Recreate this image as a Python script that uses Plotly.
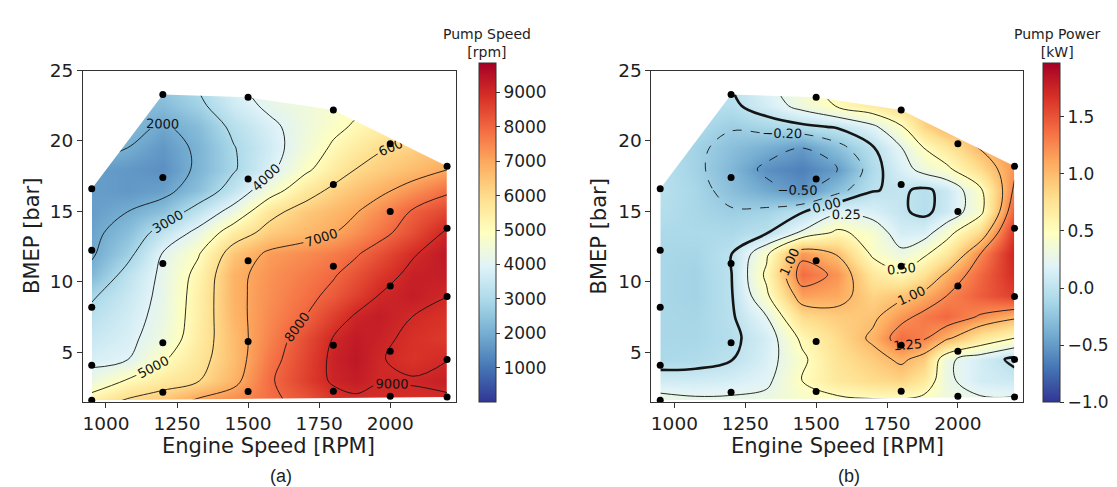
import plotly.graph_objects as go

W, H = 1117, 487

# ---------------- data ----------------
grid_rpm = [950, 1075, 1200, 1325, 1450, 1575, 1700, 1800, 1880, 1960, 2080, 2200]
grid_bmep = [1.5, 3, 4.5, 6, 7.5, 9, 10.5, 12, 13.5, 15, 16.5, 18, 19.5, 21, 22.5, 24]

# Pump speed [rpm], rows follow grid_bmep (bottom -> top), columns follow grid_rpm
pump_speed = [
    [5500, 6150, 6500, 7200, 7450, 7850, 8200, 8700, 8850, 8900, 8850, 8850],
    [4320, 5060, 5560, 5950, 6770, 7900, 8580, 9100, 9250, 9020, 9050, 9200],
    [3790, 3970, 4900, 5690, 6590, 7730, 8500, 9150, 9350, 9050, 8800, 8980],
    [3510, 3800, 4400, 5510, 6620, 7550, 8370, 9030, 9300, 9150, 8850, 8700],
    [3230, 3670, 4270, 5430, 6730, 7440, 8000, 8630, 9100, 9250, 8990, 8800],
    [2900, 3510, 4210, 5390, 6780, 7360, 7800, 8180, 8590, 9020, 9250, 9010],
    [2220, 3280, 4170, 5270, 6780, 7300, 7650, 7940, 8290, 8700, 9180, 9250],
    [1900, 2740, 4040, 4930, 6430, 7150, 7400, 7650, 7930, 8310, 8940, 9350],
    [1800, 2370, 3350, 4230, 5510, 6300, 6660, 6960, 7340, 7750, 8370, 9100],
    [1700, 1990, 2400, 3350, 4320, 5730, 6340, 6680, 6950, 7380, 8080, 8510],
    [1700, 1600, 1750, 2410, 3390, 4570, 5590, 6180, 6490, 6800, 7320, 7860],
    [1700, 1600, 1450, 2150, 2920, 3810, 4810, 5510, 6010, 6250, 6610, 6970],
    [2300, 2000, 1600, 2140, 2960, 3660, 4460, 5130, 5520, 5920, 6200, 6450],
    [2600, 2300, 1880, 2340, 3190, 3810, 4370, 4800, 5110, 5370, 5770, 6150],
    [2400, 2300, 2300, 2800, 3630, 4160, 4430, 4660, 4830, 5010, 5300, 5600],
    [2600, 2500, 2600, 3100, 3900, 4300, 4600, 4900, 5200, 5500, 5800, 6100],
]

# Pump power [kW]
pump_power = [
    [0.35, 0.30, 0.30, 0.32, 0.40, 0.42, 0.45, 0.45, 0.40, 0.35, 0.30, 0.30],
    [0.10, 0.10, 0.13, 0.20, 0.50, 0.70, 0.80, 0.85, 0.70, 0.30, 0.12, 0.08],
    [-0.10, -0.08, -0.01, 0.15, 0.45, 0.75, 0.90, 1.05, 0.90, 0.30, 0.12, -0.05],
    [-0.12, -0.12, -0.05, 0.12, 0.55, 0.80, 1.05, 1.38, 1.28, 1.05, 0.70, 0.50],
    [-0.12, -0.13, -0.03, 0.24, 0.80, 0.90, 0.95, 1.18, 1.32, 1.40, 1.22, 1.05],
    [-0.12, -0.15, -0.02, 0.45, 1.14, 1.10, 0.85, 0.95, 1.08, 1.25, 1.45, 1.60],
    [-0.12, -0.15, -0.01, 0.55, 1.38, 1.20, 0.70, 0.55, 0.75, 1.05, 1.40, 1.70],
    [-0.12, -0.13, -0.01, 0.45, 1.18, 0.98, 0.45, 0.30, 0.45, 0.68, 1.25, 1.75],
    [-0.10, -0.10, -0.10, -0.02, 0.28, 0.55, 0.40, 0.12, 0.15, 0.40, 0.82, 1.65],
    [-0.05, -0.12, -0.18, -0.15, -0.02, 0.20, 0.15, 0.03, -0.05, 0.08, 0.42, 1.45],
    [-0.03, -0.12, -0.28, -0.42, -0.55, -0.28, -0.01, 0.03, -0.04, 0.06, 0.45, 1.30],
    [-0.03, -0.15, -0.33, -0.56, -0.64, -0.50, -0.08, 0.15, 0.33, 0.44, 0.80, 1.20],
    [-0.03, -0.15, -0.28, -0.38, -0.50, -0.28, -0.02, 0.24, 0.50, 0.70, 1.02, 1.20],
    [-0.03, -0.08, -0.18, -0.12, -0.05, 0.02, 0.20, 0.47, 0.85, 1.05, 1.10, 1.15],
    [-0.03, -0.04, -0.05, 0.12, 0.33, 0.52, 0.68, 0.82, 0.95, 1.05, 1.12, 1.18],
    [-0.03, -0.03, 0.00, 0.20, 0.42, 0.60, 0.75, 0.90, 1.00, 1.10, 1.15, 1.20],
]

# measured operating points
meas_rpm = [950, 950, 950, 950, 950,
            1200, 1200, 1200, 1200, 1200,
            1500, 1500, 1500, 1500, 1500,
            1800, 1800, 1800, 1800, 1800,
            2000, 2000, 2000, 2000, 2000,
            2200, 2200, 2200, 2200, 2200]
meas_bmep = [1.6, 4.08, 8.2, 12.25, 16.6,
             2.17, 5.67, 11.3, 17.4, 23.3,
             2.22, 5.76, 11.5, 17.3, 23.1,
             2.24, 5.49, 11.1, 16.9, 22.2,
             1.88, 5.07, 9.7, 15.0, 19.8,
             1.83, 4.49, 8.96, 13.8, 18.2]

speed_levels = [2000, 9000, 1000]
speed_ticks = [1000, 2000, 3000, 4000, 5000, 6000, 7000, 8000, 9000]
power_ticks = [-1.0, -0.5, 0.0, 0.5, 1.0, 1.5]
power_tick_text = ["\u22121.0", "\u22120.5", "0.0", "0.5", "1.0", "1.5"]
rpm_ticks = [1000, 1250, 1500, 1750, 2000]
bmep_ticks = [5, 10, 15, 20, 25]

# ---------------- helpers ----------------
def convex_hull(xs, ys):
    pts = sorted(set(zip(xs, ys)))

    def cross(o, a, b):
        return (a[0] - o[0]) * (b[1] - o[1]) - (a[1] - o[1]) * (b[0] - o[0])

    lower, upper = [], []
    for p in pts:
        while len(lower) >= 2 and cross(lower[-2], lower[-1], p) <= 0:
            lower.pop()
        lower.append(p)
    for p in reversed(pts):
        while len(upper) >= 2 and cross(upper[-2], upper[-1], p) <= 0:
            upper.pop()
        upper.append(p)
    return lower[:-1] + upper[:-1]  # counter-clockwise


hull = convex_hull(meas_rpm, meas_bmep)
# outer rectangle clockwise, hull counter-clockwise -> hole
mask_x = [700, 700, 2500, 2500, 700, None] + [p[0] for p in hull] + [hull[0][0]]
mask_y = [-5, 30, 30, -5, -5, None] + [p[1] for p in hull] + [hull[0][1]]

rdylbu_r = ["rgb(49,54,149)", "rgb(69,117,180)", "rgb(116,173,209)", "rgb(171,217,233)",
            "rgb(224,243,248)", "rgb(255,255,191)", "rgb(254,224,144)", "rgb(253,174,97)",
            "rgb(244,109,67)", "rgb(215,48,39)", "rgb(165,0,38)"]
cscale = [[i / 10, c] for i, c in enumerate(rdylbu_r)]
black = [[0, "#151515"], [1, "#151515"]]

FONT = "DejaVu Sans"
TICKF = dict(family=FONT, size=18.5, color="#1e1e1e")
CBTICKF = dict(family=FONT, size=17, color="#1e1e1e")
LABF = dict(family=FONT, size=13, color="#111111")

y0 = 1 - 392 / H
y1 = 1 - 52.7 / H


def cbar(xpx, tickvals, ticktext=None):
    d = dict(x=xpx / W, xanchor="left", y=y0, yanchor="bottom",
             len=339, lenmode="pixels", thickness=17, thicknessmode="pixels",
             xpad=0, ypad=0, outlinewidth=1, outlinecolor="#333",
             tickvals=tickvals, ticks="outside", ticklen=4, tickwidth=1,
             tickcolor="#333", tickfont=CBTICKF)
    if ticktext is not None:
        d["ticktext"] = ticktext
    return d


fig = go.Figure()

# ---- (a) pump speed ----
fig.add_trace(go.Contour(x=grid_rpm, y=grid_bmep, z=pump_speed, colorscale=cscale,
                         zmin=0, zmax=9850, contours=dict(coloring="heatmap", showlines=False),
                         line=dict(width=0), colorbar=cbar(470, speed_ticks),
                         hoverinfo="skip", xaxis="x", yaxis="y"))
fig.add_trace(go.Contour(x=grid_rpm, y=grid_bmep, z=pump_speed, autocontour=False,
                         contours=dict(start=speed_levels[0], end=speed_levels[1], size=speed_levels[2],
                                       coloring="lines", showlabels=True, labelfont=LABF,
                                       labelformat="d"),
                         colorscale=black, showscale=False, line=dict(width=0.9, smoothing=1),
                         hoverinfo="skip", xaxis="x", yaxis="y"))

# ---- (b) pump power ----
fig.add_trace(go.Contour(x=grid_rpm, y=grid_bmep, z=pump_power, colorscale=cscale,
                         zmin=-1.0, zmax=1.97, contours=dict(coloring="heatmap", showlines=False),
                         line=dict(width=0), colorbar=cbar(1035, power_ticks, power_tick_text),
                         hoverinfo="skip", xaxis="x2", yaxis="y2"))

power_line_sets = [
    (-0.5, -0.2, 0.3, 0.9, "dash"),
    (0.0, 0.0, 1.0, 2.6, "solid"),
    (0.25, 0.5, 0.25, 0.9, "solid"),
    (1.0, 1.25, 0.25, 0.9, "solid"),
]
for s, e, sz, w, dash in power_line_sets:
    fig.add_trace(go.Contour(x=grid_rpm, y=grid_bmep, z=pump_power, autocontour=False,
                             contours=dict(start=s, end=e, size=sz, coloring="lines",
                                           showlabels=True, labelfont=LABF, labelformat=".2f"),
                             colorscale=black, showscale=False,
                             line=dict(width=w, dash=dash, smoothing=1),
                             hoverinfo="skip", xaxis="x2", yaxis="y2"))

# masks outside convex hull + measurement points
for xa, ya in (("x", "y"), ("x2", "y2")):
    fig.add_trace(go.Scatter(x=mask_x, y=mask_y, mode="lines", fill="toself",
                             fillcolor="white", line=dict(width=0, color="white"),
                             hoverinfo="skip", showlegend=False, xaxis=xa, yaxis=ya))
    fig.add_trace(go.Scatter(x=meas_rpm, y=meas_bmep, mode="markers",
                             marker=dict(color="black", size=7),
                             hoverinfo="skip", showlegend=False, xaxis=xa, yaxis=ya))

axis_common = dict(showline=True, mirror=True, linecolor="#333", linewidth=1,
                   ticks="outside", ticklen=5, tickwidth=1, tickcolor="#333",
                   showgrid=False, zeroline=False, tickfont=TICKF)

fig.update_layout(
    width=W, height=H, margin=dict(l=0, r=0, t=0, b=0),
    paper_bgcolor="white", plot_bgcolor="white", showlegend=False,
    xaxis=dict(domain=[74 / W, 447 / W], range=[919, 2230], tickvals=rpm_ticks,
               anchor="y", **axis_common),
    yaxis=dict(domain=[y0, y1], range=[1.46, 25.0], tickvals=bmep_ticks,
               anchor="x", **axis_common),
    xaxis2=dict(domain=[643 / W, 1015 / W], range=[919, 2230], tickvals=rpm_ticks,
                anchor="y2", **axis_common),
    yaxis2=dict(domain=[y0, y1], range=[1.46, 25.0], tickvals=bmep_ticks,
                anchor="x2", **axis_common),
)


def ann(text, xpx, ypx, size, family=FONT, angle=0):
    fig.add_annotation(text=text, x=xpx / W, y=1 - ypx / H, xref="paper", yref="paper",
                       showarrow=False, xanchor="center", yanchor="middle",
                       textangle=angle, font=dict(family=family, size=size, color="#1e1e1e"))


ann("Engine Speed [RPM]", 260, 437, 21)
ann("Engine Speed [RPM]", 829, 437, 21)
ann("BMEP [bar]", 23, 222, 21, angle=-90)
ann("BMEP [bar]", 591, 222, 21, angle=-90)
ann("Pump Speed<br>[rpm]", 478, 25, 14)
ann("Pump Power<br>[kW]", 1049, 25, 14)
ann("(a)", 272, 468, 18, family="Liberation Sans")
ann("(b)", 841, 468, 18, family="Liberation Sans")

fig.write_html("out.html")
